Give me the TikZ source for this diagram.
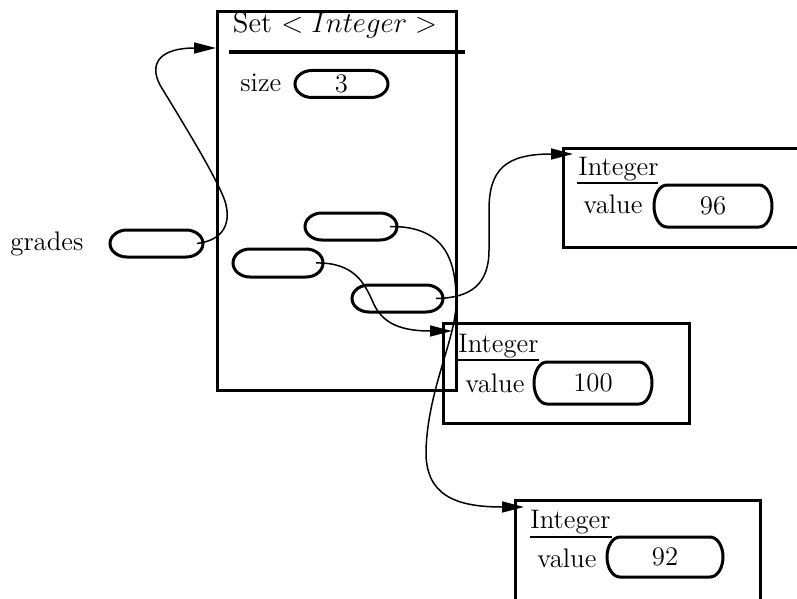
\documentclass[tikz,border=0pt]{standalone}
\usetikzlibrary{arrows.meta}
% outline of a pill-shaped field around node #1: ends are half ellipses
% with horizontal radius #2 and vertical radius #3
\newcommand\pilloutline[3]{%
  \draw[line width=1.5pt] ([xshift=#2]#1.north west) -- ([xshift=-#2]#1.north east)
    arc[start angle=90, end angle=-90, x radius=#2, y radius=#3]
    -- ([xshift=#2]#1.south west)
    arc[start angle=270, end angle=90, x radius=#2, y radius=#3] -- cycle;}
\begin{document}
\begin{tikzpicture}[x=0.5pt,y=-0.5pt,
  every node/.style={font=\fontsize{13.4}{16}\selectfont, inner sep=0pt},
  frame/.style={draw, line width=1.5pt, rectangle, anchor=north west, outer sep=0pt},
  field/.style={rectangle, outer sep=0pt},
  smallpill/.style={field, minimum width=46pt, minimum height=13.5pt},
  bigpill/.style={field, minimum width=59pt, minimum height=21pt},
  rule/.style={line width=1pt},
  link/.style={line width=0.75pt, -{Triangle[length=11pt,width=5.5pt]}}
]
\clip (0,0) rectangle (797,599);

% --- the set object ---
\node[frame, minimum width=119.5pt, minimum height=189pt] (set) at (217,12) {};
\node[anchor=base, font=\fontsize{14.4}{17}\selectfont] (settitle) at (335,33) {Set $<Integer>$};
\draw[line width=1.6pt] (229,52) -- (465,52);
\node[anchor=base west] (sizelbl) at (240,92) {size};
\node[smallpill, minimum width=46.5pt] (size) at (341.5,84) {3};
\pilloutline{size}{8.5pt}{6.75pt}

% element slots inside the set
\node[smallpill] (slotA) at (351,226.5) {};
\pilloutline{slotA}{8.5pt}{6.75pt}
\node[smallpill, minimum width=45pt, minimum height=14pt] (slotB) at (278,263) {};
\pilloutline{slotB}{8.5pt}{7pt}
\node[smallpill, minimum width=45.5pt] (slotC) at (397.5,298.5) {};
\pilloutline{slotC}{8.5pt}{6.75pt}

% --- the variable ---
\node[anchor=base west] (gradeslbl) at (10,250) {grades};
\node[smallpill, minimum width=46.5pt] (grades) at (156.5,243.5) {};
\pilloutline{grades}{8.5pt}{6.75pt}

% --- Integer 96 ---
\node[frame, minimum width=128.5pt, minimum height=49.5pt] (i96) at (563,148) {};
\node[anchor=base west] (i96name) at (578,175) {Integer};
\draw[rule] (577,183) -- (658,183);
\node[anchor=base west] (i96val) at (583,213) {value};
\node[bigpill] (p96) at (713,206) {96};
\pilloutline{p96}{6.5pt}{10.5pt}

% --- Integer 100 ---
\node[frame, minimum width=123pt, minimum height=50pt] (i100) at (443,323) {};
\node[anchor=base west] (i100name) at (458,352) {Integer};
\draw[rule] (457,360) -- (539,360);
\node[anchor=base west] (i100val) at (465,392) {value};
\node[bigpill] (p100) at (593,383) {100};
\pilloutline{p100}{6.5pt}{10.5pt}

% --- Integer 92 ---
\node[frame, minimum width=122.5pt, minimum height=60pt] (i92) at (515,500) {};
\node[anchor=base west] (i92name) at (530,528) {Integer};
\draw[rule] (530,537) -- (612,537);
\node[anchor=base west] (i92val) at (537,567) {value};
\node[bigpill, minimum width=58pt, minimum height=20pt] (p92) at (665,557) {92};
\pilloutline{p92}{6.5pt}{10pt}

% arrow targets on the objects
\coordinate (setin)  at ([shift={(-1,36)}]set.north west);
\coordinate (i96in)  at ([shift={(10,6)}]i96.north west);
\coordinate (i100in) at ([shift={(9,8)}]i100.north west);
\coordinate (i92in)  at ([shift={(9,7)}]i92.north west);

% --- references ---
\draw[link] ([xshift=-3pt]grades.east) .. controls (225,240) and (230,222) .. (226,205)
  .. controls (222,185) and (175,110) .. (160,85)
  .. controls (148,62) and (162,48) .. (setin);

\draw[link] ([xshift=-3.5pt]slotA.east) .. controls (445,226) and (457,260) .. (456,305)
  .. controls (455,340) and (428,390) .. (426,450)
  .. controls (425,495) and (455,507) .. (i92in);

\draw[link] ([xshift=-3.5pt]slotB.east) .. controls (355,262) and (365,285) .. (372,300)
  .. controls (380,320) and (395,331) .. (i100in);

\draw[link] ([xshift=-3.5pt]slotC.east) .. controls (470,298) and (489,285) .. (489,250)
  -- (489,210) .. controls (489,170) and (505,154) .. (i96in);
\end{tikzpicture}
\end{document}
